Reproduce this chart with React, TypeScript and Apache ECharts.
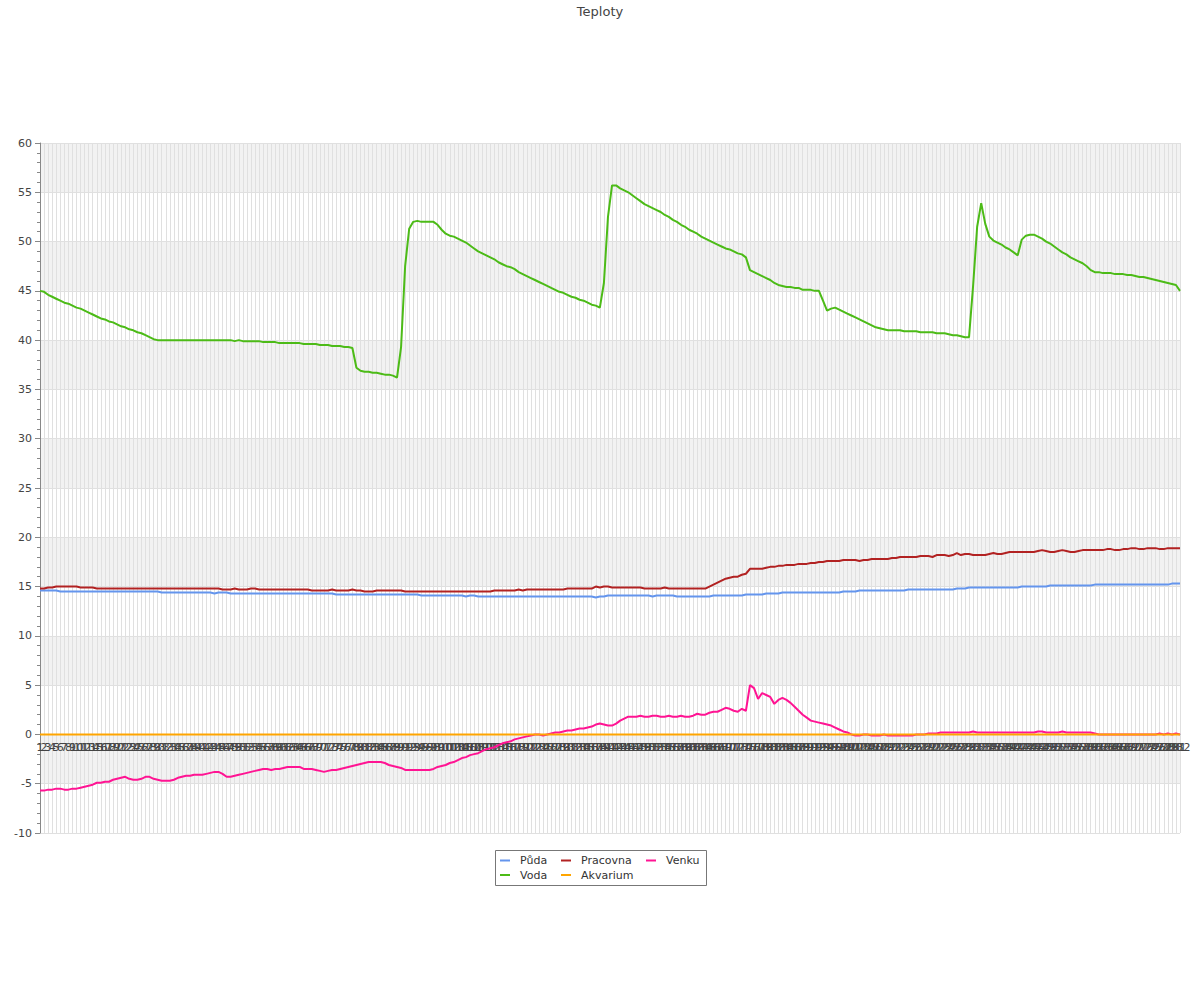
import React, { useEffect, useRef } from "react";
import * as echarts from "echarts";

const puda = [
  14.6, 14.6, 14.6, 14.6, 14.6, 14.5, 14.5, 14.5, 14.5, 14.5,
  14.5, 14.5, 14.5, 14.5, 14.5, 14.5, 14.5, 14.5, 14.5, 14.5,
  14.5, 14.5, 14.5, 14.5, 14.5, 14.5, 14.5, 14.5, 14.5, 14.5,
  14.4, 14.4, 14.4, 14.4, 14.4, 14.4, 14.4, 14.4, 14.4, 14.4,
  14.4, 14.4, 14.4, 14.3, 14.4, 14.4, 14.4, 14.3, 14.3, 14.3,
  14.3, 14.3, 14.3, 14.3, 14.3, 14.3, 14.3, 14.3, 14.3, 14.3,
  14.3, 14.3, 14.3, 14.3, 14.3, 14.3, 14.3, 14.3, 14.3, 14.3,
  14.3, 14.3, 14.3, 14.2, 14.2, 14.2, 14.2, 14.2, 14.2, 14.2,
  14.2, 14.2, 14.2, 14.2, 14.2, 14.2, 14.2, 14.2, 14.2, 14.2,
  14.2, 14.2, 14.2, 14.2, 14.1, 14.1, 14.1, 14.1, 14.1, 14.1,
  14.1, 14.1, 14.1, 14.1, 14.1, 14.0, 14.1, 14.1, 14.0, 14.0,
  14.0, 14.0, 14.0, 14.0, 14.0, 14.0, 14.0, 14.0, 14.0, 14.0,
  14.0, 14.0, 14.0, 14.0, 14.0, 14.0, 14.0, 14.0, 14.0, 14.0,
  14.0, 14.0, 14.0, 14.0, 14.0, 14.0, 14.0, 13.9, 14.0, 14.0,
  14.1, 14.1, 14.1, 14.1, 14.1, 14.1, 14.1, 14.1, 14.1, 14.1,
  14.1, 14.0, 14.1, 14.1, 14.1, 14.1, 14.1, 14.0, 14.0, 14.0,
  14.0, 14.0, 14.0, 14.0, 14.0, 14.0, 14.1, 14.1, 14.1, 14.1,
  14.1, 14.1, 14.1, 14.1, 14.2, 14.2, 14.2, 14.2, 14.2, 14.3,
  14.3, 14.3, 14.3, 14.4, 14.4, 14.4, 14.4, 14.4, 14.4, 14.4,
  14.4, 14.4, 14.4, 14.4, 14.4, 14.4, 14.4, 14.4, 14.5, 14.5,
  14.5, 14.5, 14.6, 14.6, 14.6, 14.6, 14.6, 14.6, 14.6, 14.6,
  14.6, 14.6, 14.6, 14.6, 14.7, 14.7, 14.7, 14.7, 14.7, 14.7,
  14.7, 14.7, 14.7, 14.7, 14.7, 14.7, 14.8, 14.8, 14.8, 14.9,
  14.9, 14.9, 14.9, 14.9, 14.9, 14.9, 14.9, 14.9, 14.9, 14.9,
  14.9, 14.9, 15.0, 15.0, 15.0, 15.0, 15.0, 15.0, 15.0, 15.1,
  15.1, 15.1, 15.1, 15.1, 15.1, 15.1, 15.1, 15.1, 15.1, 15.1,
  15.2, 15.2, 15.2, 15.2, 15.2, 15.2, 15.2, 15.2, 15.2, 15.2,
  15.2, 15.2, 15.2, 15.2, 15.2, 15.2, 15.2, 15.2, 15.2, 15.3, 15.3, 15.3,
];

const voda = [
  45.0, 44.9, 44.6, 44.4, 44.2, 44.0, 43.8, 43.7, 43.5, 43.3,
  43.2, 43.0, 42.8, 42.6, 42.4, 42.2, 42.1, 41.9, 41.8, 41.6,
  41.4, 41.3, 41.1, 41.0, 40.8, 40.7, 40.5, 40.3, 40.1, 40.0,
  40.0, 40.0, 40.0, 40.0, 40.0, 40.0, 40.0, 40.0, 40.0, 40.0,
  40.0, 40.0, 40.0, 40.0, 40.0, 40.0, 40.0, 40.0, 39.9, 40.0,
  39.9, 39.9, 39.9, 39.9, 39.9, 39.8, 39.8, 39.8, 39.8, 39.7,
  39.7, 39.7, 39.7, 39.7, 39.7, 39.6, 39.6, 39.6, 39.6, 39.5,
  39.5, 39.5, 39.4, 39.4, 39.4, 39.3, 39.3, 39.2, 37.2, 36.9,
  36.8, 36.8, 36.7, 36.7, 36.6, 36.5, 36.5, 36.4, 36.2, 39.3,
  47.5, 51.3, 52.0, 52.1, 52.0, 52.0, 52.0, 52.0, 51.7, 51.2,
  50.8, 50.6, 50.5, 50.3, 50.1, 49.9, 49.6, 49.3, 49.0, 48.8,
  48.6, 48.4, 48.2, 47.9, 47.7, 47.5, 47.4, 47.2, 46.9, 46.7,
  46.5, 46.3, 46.1, 45.9, 45.7, 45.5, 45.3, 45.1, 44.9, 44.8,
  44.6, 44.4, 44.3, 44.1, 44.0, 43.8, 43.6, 43.5, 43.3, 45.8,
  52.5, 55.7, 55.7, 55.4, 55.2, 55.0, 54.7, 54.4, 54.1, 53.8,
  53.6, 53.4, 53.2, 53.0, 52.7, 52.5, 52.2, 52.0, 51.7, 51.5,
  51.2, 51.0, 50.8, 50.5, 50.3, 50.1, 49.9, 49.7, 49.5, 49.3,
  49.2, 49.0, 48.8, 48.7, 48.4, 47.1, 46.9, 46.7, 46.5, 46.3,
  46.1, 45.8, 45.6, 45.5, 45.4, 45.4, 45.3, 45.3, 45.1, 45.1,
  45.1, 45.0, 45.0, 44.0, 43.0, 43.2, 43.3, 43.1, 42.9, 42.7,
  42.5, 42.3, 42.1, 41.9, 41.7, 41.5, 41.3, 41.2, 41.1, 41.0,
  41.0, 41.0, 41.0, 40.9, 40.9, 40.9, 40.9, 40.8, 40.8, 40.8,
  40.8, 40.7, 40.7, 40.7, 40.6, 40.5, 40.5, 40.4, 40.3, 40.3,
  45.5, 51.5, 53.9, 51.8, 50.5, 50.1, 49.9, 49.7, 49.4, 49.2,
  48.9, 48.6, 50.2, 50.6, 50.7, 50.7, 50.5, 50.3, 50.0, 49.8,
  49.5, 49.2, 48.9, 48.7, 48.4, 48.2, 48.0, 47.8, 47.5, 47.1,
  46.9, 46.9, 46.8, 46.8, 46.8, 46.7, 46.7, 46.7, 46.6, 46.6,
  46.5, 46.4, 46.4, 46.3, 46.2, 46.1, 46.0, 45.9, 45.8, 45.7, 45.6, 45.0,
];

const pracovna = [
  14.8, 14.8, 14.9, 14.9, 15.0, 15.0, 15.0, 15.0, 15.0, 15.0,
  14.9, 14.9, 14.9, 14.9, 14.8, 14.8, 14.8, 14.8, 14.8, 14.8,
  14.8, 14.8, 14.8, 14.8, 14.8, 14.8, 14.8, 14.8, 14.8, 14.8,
  14.8, 14.8, 14.8, 14.8, 14.8, 14.8, 14.8, 14.8, 14.8, 14.8,
  14.8, 14.8, 14.8, 14.8, 14.8, 14.7, 14.7, 14.7, 14.8, 14.7,
  14.7, 14.7, 14.8, 14.8, 14.7, 14.7, 14.7, 14.7, 14.7, 14.7,
  14.7, 14.7, 14.7, 14.7, 14.7, 14.7, 14.7, 14.6, 14.6, 14.6,
  14.6, 14.6, 14.7, 14.6, 14.6, 14.6, 14.6, 14.7, 14.6, 14.6,
  14.5, 14.5, 14.5, 14.6, 14.6, 14.6, 14.6, 14.6, 14.6, 14.6,
  14.5, 14.5, 14.5, 14.5, 14.5, 14.5, 14.5, 14.5, 14.5, 14.5,
  14.5, 14.5, 14.5, 14.5, 14.5, 14.5, 14.5, 14.5, 14.5, 14.5,
  14.5, 14.5, 14.6, 14.6, 14.6, 14.6, 14.6, 14.6, 14.7, 14.6,
  14.7, 14.7, 14.7, 14.7, 14.7, 14.7, 14.7, 14.7, 14.7, 14.7,
  14.8, 14.8, 14.8, 14.8, 14.8, 14.8, 14.8, 15.0, 14.9, 15.0,
  15.0, 14.9, 14.9, 14.9, 14.9, 14.9, 14.9, 14.9, 14.9, 14.8,
  14.8, 14.8, 14.8, 14.8, 14.9, 14.8, 14.8, 14.8, 14.8, 14.8,
  14.8, 14.8, 14.8, 14.8, 14.8, 15.0, 15.2, 15.4, 15.6, 15.8,
  15.9, 16.0, 16.0, 16.2, 16.3, 16.8, 16.8, 16.8, 16.8, 16.9,
  17.0, 17.0, 17.1, 17.1, 17.2, 17.2, 17.2, 17.3, 17.3, 17.3,
  17.4, 17.4, 17.5, 17.5, 17.6, 17.6, 17.6, 17.6, 17.7, 17.7,
  17.7, 17.7, 17.6, 17.7, 17.7, 17.8, 17.8, 17.8, 17.8, 17.8,
  17.9, 17.9, 18.0, 18.0, 18.0, 18.0, 18.0, 18.1, 18.1, 18.1,
  18.0, 18.2, 18.2, 18.2, 18.1, 18.2, 18.4, 18.2, 18.3, 18.3,
  18.2, 18.2, 18.2, 18.2, 18.3, 18.4, 18.3, 18.3, 18.4, 18.5,
  18.5, 18.5, 18.5, 18.5, 18.5, 18.5, 18.6, 18.7, 18.6, 18.5,
  18.5, 18.6, 18.7, 18.6, 18.5, 18.5, 18.6, 18.7, 18.7, 18.7,
  18.7, 18.7, 18.7, 18.8, 18.8, 18.7, 18.7, 18.8, 18.8, 18.9,
  18.9, 18.8, 18.8, 18.9, 18.9, 18.9, 18.8, 18.8, 18.9, 18.9, 18.9, 18.9,
];

const akvarium = [
  0, 0, 0, 0, 0, 0, 0, 0, 0, 0, 0, 0, 0, 0, 0, 0, 0, 0, 0, 0,
  0, 0, 0, 0, 0, 0, 0, 0, 0, 0, 0, 0, 0, 0, 0, 0, 0, 0, 0, 0,
  0, 0, 0, 0, 0, 0, 0, 0, 0, 0, 0, 0, 0, 0, 0, 0, 0, 0, 0, 0,
  0, 0, 0, 0, 0, 0, 0, 0, 0, 0, 0, 0, 0, 0, 0, 0, 0, 0, 0, 0,
  0, 0, 0, 0, 0, 0, 0, 0, 0, 0, 0, 0, 0, 0, 0, 0, 0, 0, 0, 0,
  0, 0, 0, 0, 0, 0, 0, 0, 0, 0, 0, 0, 0, 0, 0, 0, 0, 0, 0, 0,
  0, 0, 0, 0, 0, 0, 0, 0, 0, 0, 0, 0, 0, 0, 0, 0, 0, 0, 0, 0,
  0, 0, 0, 0, 0, 0, 0, 0, 0, 0, 0, 0, 0, 0, 0, 0, 0, 0, 0, 0,
  0, 0, 0, 0, 0, 0, 0, 0, 0, 0, 0, 0, 0, 0, 0, 0, 0, 0, 0, 0,
  0, 0, 0, 0, 0, 0, 0, 0, 0, 0, 0, 0, 0, 0, 0, 0, 0, 0, 0, 0,
  0, 0, 0, 0, 0, 0, 0, 0, 0, 0, 0, 0, 0, 0, 0, 0, 0, 0, 0, 0,
  0, 0, 0, 0, 0, 0, 0, 0, 0, 0, 0, 0, 0, 0, 0, 0, 0, 0, 0, 0,
  0, 0, 0, 0, 0, 0, 0, 0, 0, 0, 0, 0, 0, 0, 0, 0, 0, 0, 0, 0,
  0, 0, 0, 0, 0, 0, 0, 0, 0, 0, 0, 0, 0, 0, 0, 0, 0, 0, 0, 0,
  0, 0,
];

const venku = [
  -5.7, -5.7, -5.6, -5.6, -5.5, -5.5, -5.6, -5.6, -5.5, -5.5,
  -5.4, -5.3, -5.2, -5.1, -4.9, -4.9, -4.8, -4.8, -4.6, -4.5,
  -4.4, -4.3, -4.5, -4.6, -4.6, -4.5, -4.3, -4.3, -4.5, -4.6,
  -4.7, -4.7, -4.7, -4.6, -4.4, -4.3, -4.2, -4.2, -4.1, -4.1,
  -4.1, -4.0, -3.9, -3.8, -3.8, -4.0, -4.3, -4.3, -4.2, -4.1,
  -4.0, -3.9, -3.8, -3.7, -3.6, -3.5, -3.5, -3.6, -3.5, -3.5,
  -3.4, -3.3, -3.3, -3.3, -3.3, -3.5, -3.5, -3.5, -3.6, -3.7,
  -3.8, -3.7, -3.6, -3.6, -3.5, -3.4, -3.3, -3.2, -3.1, -3.0,
  -2.9, -2.8, -2.8, -2.8, -2.8, -2.9, -3.1, -3.2, -3.3, -3.4,
  -3.6, -3.6, -3.6, -3.6, -3.6, -3.6, -3.6, -3.5, -3.3, -3.2,
  -3.1, -2.9, -2.8, -2.6, -2.4, -2.3, -2.1, -2.0, -1.9, -1.7,
  -1.5, -1.4, -1.3, -1.1, -0.9, -0.8, -0.7, -0.5, -0.4, -0.3,
  -0.2, -0.1, 0.0, 0.0, -0.1, 0.0, 0.1, 0.2, 0.2, 0.3,
  0.4, 0.4, 0.5, 0.6, 0.6, 0.7, 0.8, 1.0, 1.1, 1.0,
  0.9, 0.9, 1.1, 1.4, 1.6, 1.8, 1.8, 1.8, 1.9, 1.8,
  1.8, 1.9, 1.9, 1.8, 1.8, 1.9, 1.8, 1.8, 1.9, 1.8,
  1.8, 1.9, 2.1, 2.0, 2.0, 2.2, 2.3, 2.3, 2.5, 2.7,
  2.6, 2.4, 2.3, 2.6, 2.4, 5.0, 4.7, 3.6, 4.2, 4.0,
  3.8, 3.1, 3.5, 3.7, 3.5, 3.2, 2.8, 2.4, 2.0, 1.7,
  1.4, 1.3, 1.2, 1.1, 1.0, 0.9, 0.7, 0.5, 0.3, 0.2,
  0.0, -0.1, -0.1, 0.0, 0.0, -0.1, -0.1, -0.1, 0.0, -0.1,
  -0.1, -0.1, -0.1, -0.1, -0.1, -0.1, 0.0, 0.0, 0.0, 0.1,
  0.1, 0.1, 0.2, 0.2, 0.2, 0.2, 0.2, 0.2, 0.2, 0.2,
  0.3, 0.2, 0.2, 0.2, 0.2, 0.2, 0.2, 0.2, 0.2, 0.2,
  0.2, 0.2, 0.2, 0.2, 0.2, 0.2, 0.3, 0.3, 0.2, 0.2,
  0.2, 0.2, 0.3, 0.2, 0.2, 0.2, 0.2, 0.2, 0.2, 0.2,
  0.1, 0.0, 0.0, 0.0, 0.0, 0.0, 0.0, 0.0, 0.0, 0.0,
  0.0, 0.0, 0.0, 0.0, 0.0, 0.0, 0.1, 0.0, 0.1, 0.0, 0.1, 0.0,
];

// x-axis tick labels: sample numbers 1..N
const categories = puda.map((_, i) => String(i + 1));

const seriesNames = ["Půda", "Voda", "Pracovna", "Venku", "Akvarium"];
const seriesColors = ["#6495ED", "#4CBB17", "#B22222", "#FF1493", "#FFA500"];
const seriesData = [puda, voda, pracovna, venku, akvarium];

const Y_MIN = -10;
const Y_MAX = 60;
const GRID_TOP = 143;
const GRID_BOTTOM = 167;
const CHART_H = 1000;

const FONT = "DejaVu Sans";

export default function App() {
  const ref = useRef<HTMLDivElement>(null);

  useEffect(() => {
    document.body.style.margin = "0";
    if (!ref.current) return;
    const chart = echarts.init(ref.current, undefined, { renderer: "svg" });

    // place the category axis on the y = 0 line (like axisLine.onZero)
    const plotH = CHART_H - GRID_TOP - GRID_BOTTOM;
    const zeroOffset = -(plotH * (0 - Y_MIN)) / (Y_MAX - Y_MIN);

    const legendCommon = {
      orient: "vertical" as const,
      top: 855,
      padding: 0,
      icon: "rect",
      itemWidth: 10,
      itemHeight: 2,
      itemGap: 3.5,
      textStyle: { fontSize: 11, color: "#333", fontFamily: FONT, padding: [0, 0, 0, 5] },
    };

    chart.setOption({
      animation: false,
      textStyle: { fontFamily: FONT },
      title: {
        text: "Teploty",
        left: "center",
        top: 0,
        textStyle: { fontSize: 13, fontWeight: "normal", color: "#444", fontFamily: FONT },
      },
      graphic: [
        {
          type: "rect",
          shape: { x: 495.5, y: 850.5, width: 211, height: 35 },
          style: { fill: "#ffffff", stroke: "#777777", lineWidth: 1 },
          z: 0,
        },
      ],
      legend: [
        { ...legendCommon, left: 500, data: ["Půda", "Voda"] },
        { ...legendCommon, left: 561, data: ["Pracovna", "Akvarium"] },
        { ...legendCommon, left: 646, data: ["Venku"] },
      ],
      grid: { left: 40, right: 20, top: GRID_TOP, bottom: GRID_BOTTOM, containLabel: false },
      xAxis: [
        {
          type: "category",
          data: categories,
          boundaryGap: false,
          axisLine: { show: false, onZero: false },
          axisTick: { show: false },
          axisLabel: { show: false },
          splitLine: { show: true, interval: 0, lineStyle: { color: "#e0e0e0", width: 1 } },
        },
        {
          type: "category",
          data: categories,
          position: "bottom",
          offset: zeroOffset,
          boundaryGap: false,
          axisLine: { show: true, onZero: false, lineStyle: { color: "#888" } },
          axisTick: { show: false },
          axisLabel: { interval: 0, color: "#444", fontSize: 11, margin: 8, fontFamily: FONT },
          splitLine: { show: false },
        },
      ],
      yAxis: {
        type: "value",
        min: Y_MIN,
        max: Y_MAX,
        interval: 5,
        axisLine: { show: true, lineStyle: { color: "#888" } },
        axisTick: { show: true, length: 5, lineStyle: { color: "#888" } },
        minorTick: { show: true, splitNumber: 5, length: 3, lineStyle: { color: "#888" } },
        axisLabel: { color: "#444", fontSize: 11, margin: 8, fontFamily: FONT },
        splitLine: { show: true, lineStyle: { color: "#e0e0e0" } },
        splitArea: { show: true, areaStyle: { color: ["#ffffff", "#f2f2f2"] } },
      },
      series: seriesNames.map((name, k) => ({
        name,
        type: "line",
        xAxisIndex: 0,
        data: seriesData[k],
        symbol: "none",
        showSymbol: false,
        color: seriesColors[k],
        lineStyle: { width: 2, color: seriesColors[k] },
        emphasis: { disabled: true },
      })),
    });

    return () => {
      chart.dispose();
    };
  }, []);

  return (
    <div
      ref={ref}
      style={{ width: 1200, height: 1000, position: "absolute", left: 0, top: 0 }}
    />
  );
}
